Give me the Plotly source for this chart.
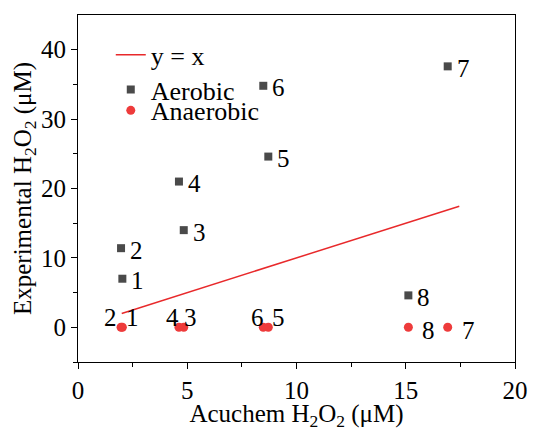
import plotly.graph_objects as go

labels = ["1", "2", "3", "4", "5", "6", "7", "8"]
aero_x = [2.03, 1.97, 4.84, 4.62, 8.71, 8.48, 16.92, 15.12]
aero_y = [7.0, 11.4, 14.0, 21.0, 24.6, 34.8, 37.6, 4.6]
anaero_x = [2.03, 1.97, 4.84, 4.62, 8.71, 8.48, 16.92, 15.12]
anaero_y = [0, 0, 0, 0, 0, 0, 0, 0]
line_x = [2.0, 17.45]
line_y = [2.0, 17.45]

# label offsets (pixels) for anaerobic labels
anaero_dx = [10, -11, 7, -6, 10, -6, 12, 12]
anaero_dy = [10, 10, 10, 10, 10, 10, -3, -3]
anaero_anchor = ["center", "center", "center", "center", "center", "center", "left", "left"]

font = "Liberation Serif, Times New Roman, serif"
FS = 25
tf = dict(family=font, size=FS, color="black")
lf = dict(family=font, size=26, color="black")

fig = go.Figure()
fig.add_trace(go.Scatter(x=line_x, y=line_y, mode="lines", name="y = x", legend="legend",
                         line=dict(color="#e8292b", width=1.5)))
fig.add_trace(go.Scatter(x=aero_x, y=aero_y, mode="markers", name="Aerobic", legend="legend2",
                         marker=dict(symbol="square", size=8, color="#4a4a4a")))
fig.add_trace(go.Scatter(x=anaero_x, y=anaero_y, mode="markers", name="Anaerobic", legend="legend3",
                         marker=dict(symbol="circle", size=9, color="#ee3b3b")))

annotations = []
for x, y, t in zip(aero_x, aero_y, labels):
    annotations.append(dict(x=x, y=y, text=t, showarrow=False, xanchor="left",
                            xshift=7, yshift=-2, font=tf))
for x, y, t, dx, dy, a in zip(anaero_x, anaero_y, labels, anaero_dx, anaero_dy, anaero_anchor):
    annotations.append(dict(x=x, y=y, text=t, showarrow=False, xanchor=a,
                            xshift=dx, yshift=dy, font=tf))

leg = dict(xanchor="left", yanchor="middle", bgcolor="rgba(0,0,0,0)", font=lf,
           borderwidth=0, itemwidth=30)
fig.update_layout(
    width=534, height=431,
    margin=dict(l=78, r=19, t=15, b=69),
    paper_bgcolor="white", plot_bgcolor="white",
    font=dict(family=font, size=FS, color="black"),
    legend=dict(leg, x=0.075, y=0.885),
    legend2=dict(leg, x=0.075, y=0.785),
    legend3=dict(leg, x=0.075, y=0.725),
    showlegend=True,
    annotations=annotations,
)
fig.update_xaxes(range=[0, 20], tickvals=[0, 5, 10, 15, 20], ticks="outside", ticklen=6,
                 tickfont=tf, automargin=False,
                 minor=dict(tickvals=[2.5, 7.5, 12.5, 17.5], ticks="outside", ticklen=4, tickcolor="black"),
                 showline=True, linecolor="black", linewidth=1.2, mirror=True, showgrid=False,
                 zeroline=False, tickcolor="black",
                 title=dict(text="Acuchem H<sub>2</sub>O<sub>2</sub> (μM)", standoff=6, font=tf))
fig.update_yaxes(range=[-5, 45], tickvals=[0, 10, 20, 30, 40], ticks="outside", ticklen=6,
                 tickfont=tf, automargin=False,
                 minor=dict(tickvals=[-5, 5, 15, 25, 35], ticks="outside", ticklen=4, tickcolor="black"),
                 showline=True, linecolor="black", linewidth=1.2, mirror=True, showgrid=False,
                 zeroline=False, tickcolor="black",
                 title=dict(text="Experimental H<sub>2</sub>O<sub>2</sub> (μM)", standoff=2, font=tf))
fig.write_html("out.html")
